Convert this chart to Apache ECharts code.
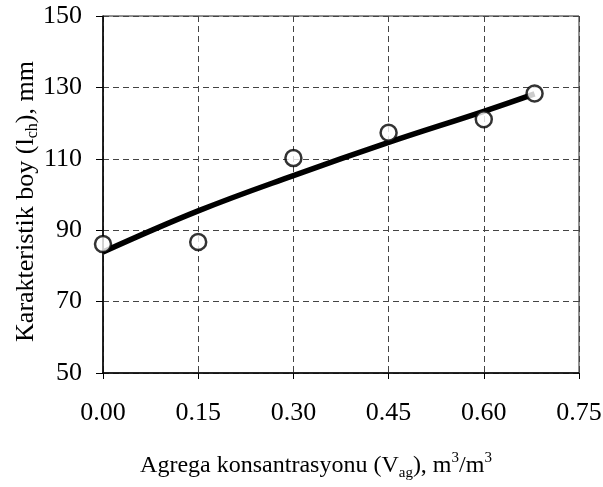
<!DOCTYPE html>
<html><head><meta charset="utf-8">
<script src="https://cdn.jsdelivr.net/npm/echarts@6/dist/echarts.min.js"></script>
<style>html,body{margin:0;padding:0;background:#fff}#c{width:603px;height:487px}</style>
</head><body><div id="c"></div>
<script>
// measured points
const pointX = [0.00, 0.15, 0.30, 0.45, 0.60, 0.68];
const pointY = [86.1, 86.7, 110.2, 117.3, 121.1, 128.3];
// fitted curve
const curveX = [0.00, 0.15, 0.30, 0.45, 0.60, 0.68];
const curveY = [83.9, 95.4, 105.3, 114.6, 123.3, 128.2];
const xTicks = [0.00, 0.15, 0.30, 0.45, 0.60, 0.75];
const yTicks = [50, 70, 90, 110, 130, 150];

const font = '"Liberation Serif","Times New Roman",serif';
const chart = echarts.init(document.getElementById('c'), null, {renderer:'canvas'});
const gridLine = {show:true, lineStyle:{color:'#444', type:[6,4], width:1}};
chart.setOption({
  animation:false,
  backgroundColor:'#fff',
  grid:{left:103, right:24, top:16, bottom:114, show:true, borderColor:'#222', borderWidth:1,
        containLabel:false, outerBoundsMode:'none'},
  xAxis:{
    type:'value', min:xTicks[0], max:xTicks[xTicks.length-1], interval:0.15,
    axisLine:{show:true, onZero:false, lineStyle:{color:'#000', width:1.5}},
    axisTick:{show:true, inside:false, length:6, lineStyle:{color:'#000'}},
    axisLabel:{fontFamily:font, fontSize:26, color:'#000', margin:27, formatter:v=>v.toFixed(2)},
    splitLine:gridLine,
    name:'Agrega konsantrasyonu (V{sub|ag}), m{sup|3}/m{sup|3}',
    nameLocation:'middle', nameGap:78, nameMoveOverlap:false,
    nameTextStyle:{fontFamily:font, fontSize:24, color:'#000', lineHeight:30, padding:[0,50,0,0],
      rich:{sub:{fontFamily:font, fontSize:15, color:'#000', verticalAlign:'bottom', lineHeight:30, padding:[10,0,0,0]},
            sup:{fontFamily:font, fontSize:15, color:'#000', verticalAlign:'top', lineHeight:30, padding:[0,0,12,0]}}}
  },
  yAxis:{
    type:'value', min:yTicks[0], max:yTicks[yTicks.length-1], interval:20,
    axisLine:{show:true, onZero:false, lineStyle:{color:'#000', width:1.5}},
    axisTick:{show:true, inside:false, length:7, lineStyle:{color:'#000'}},
    axisLabel:{fontFamily:font, fontSize:26, color:'#000', margin:21},
    splitLine:gridLine,
    name:'Karakteristik boy (l{sub|ch}), mm',
    nameLocation:'middle', nameGap:62, nameMoveOverlap:false,
    nameTextStyle:{fontFamily:font, fontSize:26, color:'#000', lineHeight:30, padding:[0,14,0,0],
      rich:{sub:{fontFamily:font, fontSize:16, color:'#000', verticalAlign:'bottom', lineHeight:30, padding:[10,0,0,0]}}}
  },
  series:[
    {type:'line', data:curveX.map((x,i)=>[x,curveY[i]]), smooth:0.4, showSymbol:false,
     lineStyle:{color:'#000', width:5.5}, z:2},
    {type:'scatter', data:pointX.map((x,i)=>[x,pointY[i]]), symbol:'circle', symbolSize:16,
     itemStyle:{color:'#fff', borderColor:'#000', borderWidth:2.5}, z:3}
  ]
});
</script></body></html>
